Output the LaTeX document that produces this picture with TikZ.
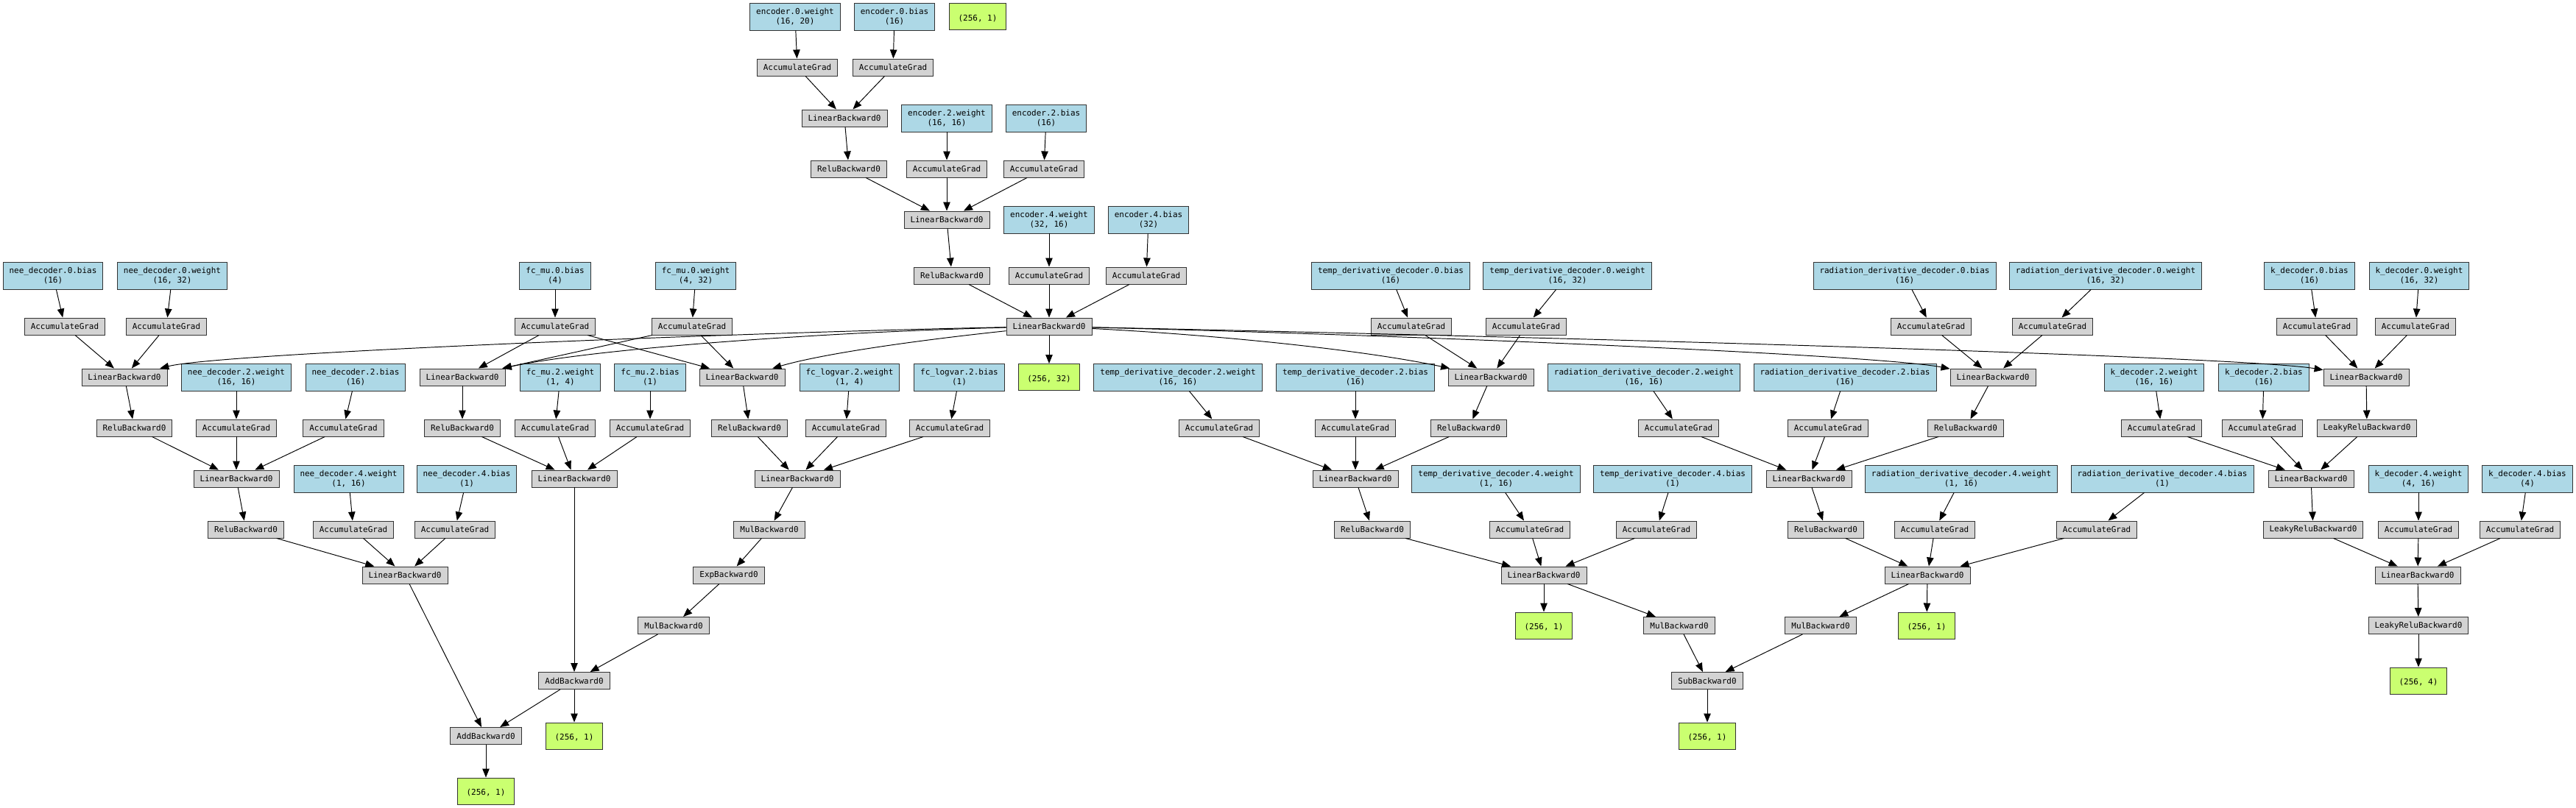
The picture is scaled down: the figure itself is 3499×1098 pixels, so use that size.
\documentclass[tikz,border=0pt]{standalone}
\usepackage{fontspec}
\setmonofont{DejaVu Sans Mono}
\usetikzlibrary{arrows.meta}
\definecolor{paramblue}{HTML}{ADD8E6}
\definecolor{opgray}{HTML}{D3D3D3}
\definecolor{outgreen}{HTML}{CAFF70}
\begin{document}
\begin{tikzpicture}[x=0.02cm, y=-0.02cm,
  >={Triangle[length=0.24cm,width=0.19cm]},
  box/.style={draw=black!80, line width=0.55pt, rectangle, align=center,
    font=\ttfamily\fontsize{6.24pt}{7.57pt}\selectfont, inner ysep=0pt},
  op/.style={box, fill=opgray, inner xsep=0.17cm, minimum height=0.46cm},
  param/.style={box, fill=paramblue, inner xsep=0.17cm, minimum height=0.74cm},
  tensor/.style={box, fill=outgreen, inner xsep=0.24cm, minimum height=0.72cm},
  link/.style={->, line width=0.55pt}]
  \useasboundingbox (0,0) rectangle (3499,1098);

  % encoder
  \node[param] (e0w) at (1080,22.5) {encoder.0.weight\\(16, 20)};
  \node[param] (e0b) at (1215,22.5) {encoder.0.bias\\(16)};
  \node[tensor] (top) at (1328,22.5) {\mbox{}\\(256, 1)};
  \node[op] (ag_e0w) at (1083,91.5) {AccumulateGrad};
  \node[op] (ag_e0b) at (1213,91.5) {AccumulateGrad};
  \node[op] (eL0) at (1147,160.5) {LinearBackward0};
  \node[param] (e2w) at (1286,160.5) {encoder.2.weight\\(16, 16)};
  \node[param] (e2b) at (1421,160.5) {encoder.2.bias\\(16)};
  \node[op] (eR0) at (1153,229.5) {ReluBackward0};
  \node[op] (ag_e2w) at (1286,229.5) {AccumulateGrad};
  \node[op] (ag_e2b) at (1418,229.5) {AccumulateGrad};
  \node[op] (eL2) at (1286,298.5) {LinearBackward0};
  \node[param] (e4w) at (1425,298.5) {encoder.4.weight\\(32, 16)};
  \node[param] (e4b) at (1560,298.5) {encoder.4.bias\\(32)};
  \node[op] (eR2) at (1293,374.5) {ReluBackward0};
  \node[op] (ag_e4w) at (1425,374.5) {AccumulateGrad};
  \node[op] (ag_e4b) at (1557,374.5) {AccumulateGrad};
  \node[op] (eL4) at (1425,443.5) {LinearBackward0};
  \node[tensor] (zout) at (1425,512.5) {\mbox{}\\(256, 32)};

  % nee decoder
  \node[param] (n0b) at (72,374.5) {nee\_decoder.0.bias\\(16)};
  \node[param] (n0w) at (234,374.5) {nee\_decoder.0.weight\\(16, 32)};
  \node[op] (ag_n0b) at (88,443.5) {AccumulateGrad};
  \node[op] (ag_n0w) at (226,443.5) {AccumulateGrad};
  \node[op] (nL0) at (169,512.5) {LinearBackward0};
  \node[param] (n2w) at (321,512.5) {nee\_decoder.2.weight\\(16, 16)};
  \node[param] (n2b) at (483,512.5) {nee\_decoder.2.bias\\(16)};
  \node[op] (nR0) at (182.5,581.5) {ReluBackward0};
  \node[op] (ag_n2w) at (321,581.5) {AccumulateGrad};
  \node[op] (ag_n2b) at (466.5,581.5) {AccumulateGrad};
  \node[op] (nL2) at (321,650.5) {LinearBackward0};
  \node[param] (n4w) at (473.5,650.5) {nee\_decoder.4.weight\\(1, 16)};
  \node[param] (n4b) at (634,650.5) {nee\_decoder.4.bias\\(1)};
  \node[op] (nR2) at (334,719.5) {ReluBackward0};
  \node[op] (ag_n4w) at (480,719.5) {AccumulateGrad};
  \node[op] (ag_n4b) at (618,719.5) {AccumulateGrad};
  \node[op] (nL4) at (550,781.5) {LinearBackward0};

  % fc_mu and fc_logvar
  \node[param] (m0b) at (754,374.5) {fc\_mu.0.bias\\(4)};
  \node[param] (m0w) at (945,374.5) {fc\_mu.0.weight\\(4, 32)};
  \node[op] (ag_m0b) at (754,443.5) {AccumulateGrad};
  \node[op] (ag_m0w) at (940,443.5) {AccumulateGrad};
  \node[op] (mL0) at (628,512.5) {LinearBackward0};
  \node[param] (m2w) at (761,512.5) {fc\_mu.2.weight\\(1, 4)};
  \node[param] (m2b) at (883,512.5) {fc\_mu.2.bias\\(1)};
  \node[op] (lL0) at (1008,512.5) {LinearBackward0};
  \node[param] (l2w) at (1154,512.5) {fc\_logvar.2.weight\\(1, 4)};
  \node[param] (l2b) at (1303,512.5) {fc\_logvar.2.bias\\(1)};
  \node[op] (mR0) at (628,581.5) {ReluBackward0};
  \node[op] (ag_m2w) at (754,581.5) {AccumulateGrad};
  \node[op] (ag_m2b) at (883,581.5) {AccumulateGrad};
  \node[op] (lR0) at (1018,581.5) {ReluBackward0};
  \node[op] (ag_l2w) at (1149,581.5) {AccumulateGrad};
  \node[op] (ag_l2b) at (1290,581.5) {AccumulateGrad};
  \node[op] (mL2) at (780,650.5) {LinearBackward0};
  \node[op] (lL2) at (1083,650.5) {LinearBackward0};
  \node[op] (mul1) at (1045,719.5) {MulBackward0};
  \node[op] (expb) at (990,781.5) {ExpBackward0};
  \node[op] (mul2) at (915,850) {MulBackward0};
  \node[op] (add1) at (780,925) {AddBackward0};
  \node[tensor] (out1) at (780,1000) {\mbox{}\\(256, 1)};
  \node[op] (add2) at (660,1000) {AddBackward0};
  \node[tensor] (out2) at (660,1075) {\mbox{}\\(256, 1)};

  % temp derivative decoder
  \node[param] (t0b) at (1889,374.5) {temp\_derivative\_decoder.0.bias\\(16)};
  \node[param] (t0w) at (2129,374.5) {temp\_derivative\_decoder.0.weight\\(16, 32)};
  \node[op] (ag_t0b) at (1917,443.5) {AccumulateGrad};
  \node[op] (ag_t0w) at (2073,443.5) {AccumulateGrad};
  \node[op] (tL0) at (2025,512.5) {LinearBackward0};
  \node[param] (t2w) at (1600,512.5) {temp\_derivative\_decoder.2.weight\\(16, 16)};
  \node[param] (t2b) at (1841,512.5) {temp\_derivative\_decoder.2.bias\\(16)};
  \node[op] (tR0) at (1995,581.5) {ReluBackward0};
  \node[op] (ag_t2w) at (1656,581.5) {AccumulateGrad};
  \node[op] (ag_t2b) at (1841,581.5) {AccumulateGrad};
  \node[op] (tL2) at (1841,650.5) {LinearBackward0};
  \node[param] (t4w) at (2032,650.5) {temp\_derivative\_decoder.4.weight\\(1, 16)};
  \node[param] (t4b) at (2272,650.5) {temp\_derivative\_decoder.4.bias\\(1)};
  \node[op] (tR2) at (1864,719.5) {ReluBackward0};
  \node[op] (ag_t4w) at (2078,719.5) {AccumulateGrad};
  \node[op] (ag_t4b) at (2250,719.5) {AccumulateGrad};
  \node[op] (tL4) at (2097,781.5) {LinearBackward0};
  \node[tensor] (out_t) at (2097,850) {\mbox{}\\(256, 1)};
  \node[op] (mul_t) at (2281,850) {MulBackward0};
  \node[op] (sub) at (2319,925) {SubBackward0};
  \node[tensor] (out_s) at (2319,1000) {\mbox{}\\(256, 1)};

  % radiation derivative decoder
  \node[param] (r0b) at (2587,374.5) {radiation\_derivative\_decoder.0.bias\\(16)};
  \node[param] (r0w) at (2860,374.5) {radiation\_derivative\_decoder.0.weight\\(16, 32)};
  \node[op] (ag_r0b) at (2623,443.5) {AccumulateGrad};
  \node[op] (ag_r0w) at (2788,443.5) {AccumulateGrad};
  \node[op] (rL0) at (2707,512.5) {LinearBackward0};
  \node[param] (r2w) at (2233,512.5) {radiation\_derivative\_decoder.2.weight\\(16, 16)};
  \node[param] (r2b) at (2506,512.5) {radiation\_derivative\_decoder.2.bias\\(16)};
  \node[op] (rR0) at (2670,581.5) {ReluBackward0};
  \node[op] (ag_r2w) at (2280,581.5) {AccumulateGrad};
  \node[op] (ag_r2b) at (2483,581.5) {AccumulateGrad};
  \node[op] (rL2) at (2457,650.5) {LinearBackward0};
  \node[param] (r4w) at (2664,650.5) {radiation\_derivative\_decoder.4.weight\\(1, 16)};
  \node[param] (r4b) at (2937,650.5) {radiation\_derivative\_decoder.4.bias\\(1)};
  \node[op] (rR2) at (2480,719.5) {ReluBackward0};
  \node[op] (ag_r4w) at (2628,719.5) {AccumulateGrad};
  \node[op] (ag_r4b) at (2848,719.5) {AccumulateGrad};
  \node[op] (rL4) at (2618,781.5) {LinearBackward0};
  \node[op] (mul_r) at (2473,850) {MulBackward0};
  \node[tensor] (out_r) at (2617,850) {\mbox{}\\(256, 1)};

  % k decoder
  \node[param] (k0b) at (3137,374.5) {k\_decoder.0.bias\\(16)};
  \node[param] (k0w) at (3286,374.5) {k\_decoder.0.weight\\(16, 32)};
  \node[op] (ag_k0b) at (3147,443.5) {AccumulateGrad};
  \node[op] (ag_k0w) at (3281,443.5) {AccumulateGrad};
  \node[op] (kL0) at (3214,512.5) {LinearBackward0};
  \node[param] (k2w) at (2926,512.5) {k\_decoder.2.weight\\(16, 16)};
  \node[param] (k2b) at (3075,512.5) {k\_decoder.2.bias\\(16)};
  \node[op] (kR0) at (3215,581.5) {LeakyReluBackward0};
  \node[op] (ag_k2w) at (2936,581.5) {AccumulateGrad};
  \node[op] (ag_k2b) at (3073,581.5) {AccumulateGrad};
  \node[op] (kL2) at (3139,650.5) {LinearBackward0};
  \node[param] (k4w) at (3285,650.5) {k\_decoder.4.weight\\(4, 16)};
  \node[param] (k4b) at (3433,650.5) {k\_decoder.4.bias\\(4)};
  \node[op] (kR2) at (3142,719.5) {LeakyReluBackward0};
  \node[op] (ag_k4w) at (3285,719.5) {AccumulateGrad};
  \node[op] (ag_k4b) at (3423,719.5) {AccumulateGrad};
  \node[op] (kL4) at (3284,781.5) {LinearBackward0};
  \node[op] (kR4) at (3285,850) {LeakyReluBackward0};
  \node[tensor] (out_k) at (3285,925) {\mbox{}\\(256, 4)};

  % encoder edges
  \draw[link] (e0w) -- (ag_e0w);
  \draw[link] (e0b) -- (ag_e0b);
  \draw[link] (ag_e0w) -- (eL0);
  \draw[link] (ag_e0b) -- (eL0);
  \draw[link] (eL0) -- (eR0);
  \draw[link] (e2w) -- (ag_e2w);
  \draw[link] (e2b) -- (ag_e2b);
  \draw[link] (eR0) -- (eL2);
  \draw[link] (ag_e2w) -- (eL2);
  \draw[link] (ag_e2b) -- (eL2);
  \draw[link] (eL2) -- (eR2);
  \draw[link] (e4w) -- (ag_e4w);
  \draw[link] (e4b) -- (ag_e4b);
  \draw[link] (eR2) -- (eL4);
  \draw[link] (ag_e4w) -- (eL4);
  \draw[link] (ag_e4b) -- (eL4);
  \draw[link] (eL4) -- (zout);

  % encoder output into the decoders
  \draw[link] (eL4) .. controls (1000,452) and (300,480) .. (nL0);
  \draw[link] (eL4) .. controls (1100,452) and (800,475) .. (mL0);
  \draw[link] (eL4) .. controls (1250,462) and (1120,480) .. (lL0);
  \draw[link] (eL4) .. controls (1650,455) and (1850,475) .. (tL0);
  \draw[link] (eL4) .. controls (1900,455) and (2550,482) .. (rL0);
  \draw[link] (eL4) .. controls (2200,460) and (3050,485) .. (kL0);

  % nee decoder edges
  \draw[link] (n0b) -- (ag_n0b);
  \draw[link] (n0w) -- (ag_n0w);
  \draw[link] (ag_n0b) -- (nL0);
  \draw[link] (ag_n0w) -- (nL0);
  \draw[link] (nL0) -- (nR0);
  \draw[link] (n2w) -- (ag_n2w);
  \draw[link] (n2b) -- (ag_n2b);
  \draw[link] (nR0) -- (nL2);
  \draw[link] (ag_n2w) -- (nL2);
  \draw[link] (ag_n2b) -- (nL2);
  \draw[link] (nL2) -- (nR2);
  \draw[link] (n4w) -- (ag_n4w);
  \draw[link] (n4b) -- (ag_n4b);
  \draw[link] (nR2) -- (nL4);
  \draw[link] (ag_n4w) -- (nL4);
  \draw[link] (ag_n4b) -- (nL4);
  \draw[link] (nL4) -- (add2);

  % fc_mu and fc_logvar edges
  \draw[link] (m0b) -- (ag_m0b);
  \draw[link] (m0w) -- (ag_m0w);
  \draw[link] (ag_m0b) -- (mL0);
  \draw[link] (ag_m0w) -- (mL0);
  \draw[link] (ag_m0b) -- (lL0);
  \draw[link] (ag_m0w) -- (lL0);
  \draw[link] (mL0) -- (mR0);
  \draw[link] (m2w) -- (ag_m2w);
  \draw[link] (m2b) -- (ag_m2b);
  \draw[link] (mR0) -- (mL2);
  \draw[link] (ag_m2w) -- (mL2);
  \draw[link] (ag_m2b) -- (mL2);
  \draw[link] (lL0) -- (lR0);
  \draw[link] (l2w) -- (ag_l2w);
  \draw[link] (l2b) -- (ag_l2b);
  \draw[link] (lR0) -- (lL2);
  \draw[link] (ag_l2w) -- (lL2);
  \draw[link] (ag_l2b) -- (lL2);
  \draw[link] (lL2) -- (mul1);
  \draw[link] (mul1) -- (expb);
  \draw[link] (expb) -- (mul2);
  \draw[link] (mL2) -- (add1);
  \draw[link] (mul2) -- (add1);
  \draw[link] (add1) -- (out1);
  \draw[link] (add1) -- (add2);
  \draw[link] (add2) -- (out2);

  % temp derivative decoder edges
  \draw[link] (t0b) -- (ag_t0b);
  \draw[link] (t0w) -- (ag_t0w);
  \draw[link] (ag_t0b) -- (tL0);
  \draw[link] (ag_t0w) -- (tL0);
  \draw[link] (tL0) -- (tR0);
  \draw[link] (t2w) -- (ag_t2w);
  \draw[link] (t2b) -- (ag_t2b);
  \draw[link] (ag_t2w) -- (tL2);
  \draw[link] (ag_t2b) -- (tL2);
  \draw[link] (tR0) -- (tL2);
  \draw[link] (tL2) -- (tR2);
  \draw[link] (t4w) -- (ag_t4w);
  \draw[link] (t4b) -- (ag_t4b);
  \draw[link] (tR2) -- (tL4);
  \draw[link] (ag_t4w) -- (tL4);
  \draw[link] (ag_t4b) -- (tL4);
  \draw[link] (tL4) -- (out_t);
  \draw[link] (tL4) -- (mul_t);
  \draw[link] (mul_t) -- (sub);
  \draw[link] (sub) -- (out_s);

  % radiation derivative decoder edges
  \draw[link] (r0b) -- (ag_r0b);
  \draw[link] (r0w) -- (ag_r0w);
  \draw[link] (ag_r0b) -- (rL0);
  \draw[link] (ag_r0w) -- (rL0);
  \draw[link] (rL0) -- (rR0);
  \draw[link] (r2w) -- (ag_r2w);
  \draw[link] (r2b) -- (ag_r2b);
  \draw[link] (ag_r2w) -- (rL2);
  \draw[link] (ag_r2b) -- (rL2);
  \draw[link] (rR0) -- (rL2);
  \draw[link] (rL2) -- (rR2);
  \draw[link] (r4w) -- (ag_r4w);
  \draw[link] (r4b) -- (ag_r4b);
  \draw[link] (rR2) -- (rL4);
  \draw[link] (ag_r4w) -- (rL4);
  \draw[link] (ag_r4b) -- (rL4);
  \draw[link] (rL4) -- (mul_r);
  \draw[link] (rL4) -- (out_r);
  \draw[link] (mul_r) -- (sub);

  % k decoder edges
  \draw[link] (k0b) -- (ag_k0b);
  \draw[link] (k0w) -- (ag_k0w);
  \draw[link] (ag_k0b) -- (kL0);
  \draw[link] (ag_k0w) -- (kL0);
  \draw[link] (kL0) -- (kR0);
  \draw[link] (k2w) -- (ag_k2w);
  \draw[link] (k2b) -- (ag_k2b);
  \draw[link] (ag_k2w) -- (kL2);
  \draw[link] (ag_k2b) -- (kL2);
  \draw[link] (kR0) -- (kL2);
  \draw[link] (kL2) -- (kR2);
  \draw[link] (k4w) -- (ag_k4w);
  \draw[link] (k4b) -- (ag_k4b);
  \draw[link] (kR2) -- (kL4);
  \draw[link] (ag_k4w) -- (kL4);
  \draw[link] (ag_k4b) -- (kL4);
  \draw[link] (kL4) -- (kR4);
  \draw[link] (kR4) -- (out_k);
\end{tikzpicture}
\end{document}
